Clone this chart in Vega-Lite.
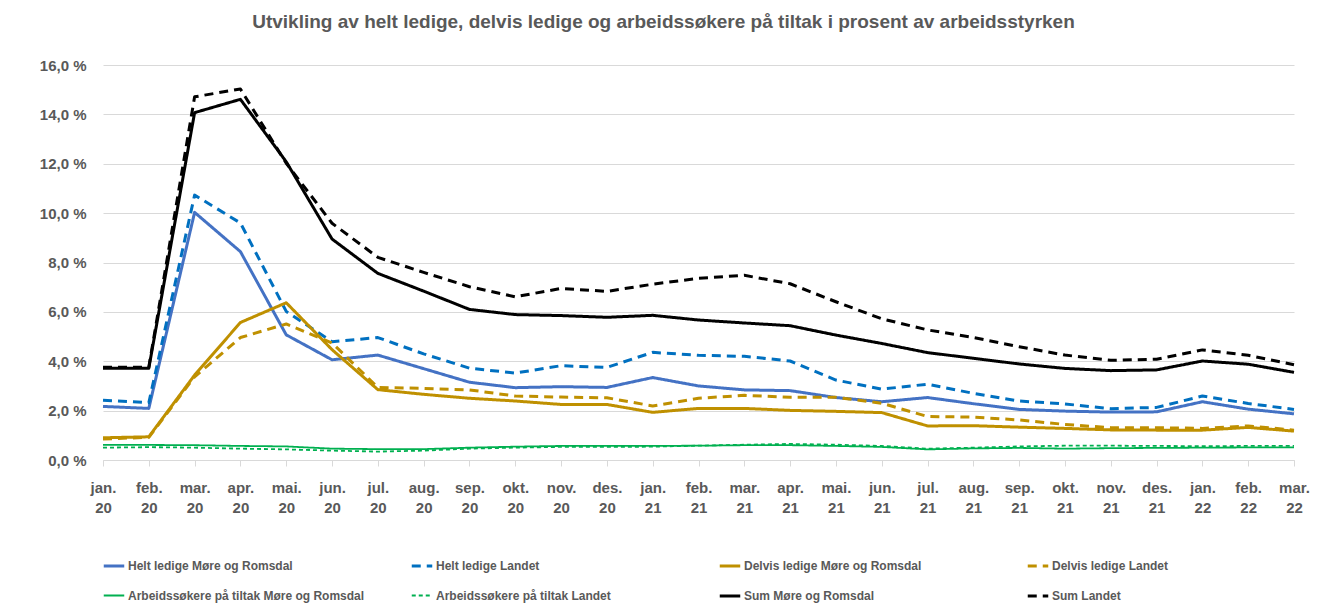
{
  "$schema": "https://vega.github.io/schema/vega-lite/v6.json",
  "autosize": "none",
  "padding": {"left": 103, "top": 65, "right": 41, "bottom": 143},
  "width": 1191,
  "height": 395,
  "background": "white",
  "title": {
    "text": "Utvikling av helt ledige, delvis ledige og arbeidssøkere på tiltak i prosent av arbeidsstyrken",
    "font": "Liberation Sans",
    "fontSize": 19,
    "fontWeight": "bold",
    "color": "#595959",
    "anchor": "middle",
    "dx": -35,
    "offset": 26
  },
  "config": {
    "view": {"stroke": null},
    "legend": {
      "orient": "none",
      "legendX": -1,
      "legendY": 489,
      "direction": "horizontal",
      "columns": 4,
      "gridAlign": "all",
      "columnPadding": 40,
      "rowPadding": 12,
      "symbolType": "stroke",
      "symbolSize": 420,
      "labelFont": "Liberation Sans",
      "labelFontSize": 12,
      "labelFontWeight": "bold",
      "labelColor": "#595959",
      "labelOffset": 2,
      "labelLimit": 0
    }
  },
  "datasets": {
    "d": [
      {"maaned":"jan. 20","serie":"Helt ledige Møre og Romsdal","verdi":2.17},
      {"maaned":"feb. 20","serie":"Helt ledige Møre og Romsdal","verdi":2.09},
      {"maaned":"mar. 20","serie":"Helt ledige Møre og Romsdal","verdi":10.03},
      {"maaned":"apr. 20","serie":"Helt ledige Møre og Romsdal","verdi":8.44},
      {"maaned":"mai. 20","serie":"Helt ledige Møre og Romsdal","verdi":5.07},
      {"maaned":"jun. 20","serie":"Helt ledige Møre og Romsdal","verdi":4.06},
      {"maaned":"jul. 20","serie":"Helt ledige Møre og Romsdal","verdi":4.25},
      {"maaned":"aug. 20","serie":"Helt ledige Møre og Romsdal","verdi":3.7},
      {"maaned":"sep. 20","serie":"Helt ledige Møre og Romsdal","verdi":3.15},
      {"maaned":"okt. 20","serie":"Helt ledige Møre og Romsdal","verdi":2.93},
      {"maaned":"nov. 20","serie":"Helt ledige Møre og Romsdal","verdi":2.97},
      {"maaned":"des. 20","serie":"Helt ledige Møre og Romsdal","verdi":2.94},
      {"maaned":"jan. 21","serie":"Helt ledige Møre og Romsdal","verdi":3.34},
      {"maaned":"feb. 21","serie":"Helt ledige Møre og Romsdal","verdi":3.0},
      {"maaned":"mar. 21","serie":"Helt ledige Møre og Romsdal","verdi":2.84},
      {"maaned":"apr. 21","serie":"Helt ledige Møre og Romsdal","verdi":2.81},
      {"maaned":"mai. 21","serie":"Helt ledige Møre og Romsdal","verdi":2.53},
      {"maaned":"jun. 21","serie":"Helt ledige Møre og Romsdal","verdi":2.36},
      {"maaned":"jul. 21","serie":"Helt ledige Møre og Romsdal","verdi":2.53},
      {"maaned":"aug. 21","serie":"Helt ledige Møre og Romsdal","verdi":2.28},
      {"maaned":"sep. 21","serie":"Helt ledige Møre og Romsdal","verdi":2.05},
      {"maaned":"okt. 21","serie":"Helt ledige Møre og Romsdal","verdi":1.98},
      {"maaned":"nov. 21","serie":"Helt ledige Møre og Romsdal","verdi":1.94},
      {"maaned":"des. 21","serie":"Helt ledige Møre og Romsdal","verdi":1.95},
      {"maaned":"jan. 22","serie":"Helt ledige Møre og Romsdal","verdi":2.36},
      {"maaned":"feb. 22","serie":"Helt ledige Møre og Romsdal","verdi":2.06},
      {"maaned":"mar. 22","serie":"Helt ledige Møre og Romsdal","verdi":1.87},

      {"maaned":"jan. 20","serie":"Helt ledige Landet","verdi":2.42},
      {"maaned":"feb. 20","serie":"Helt ledige Landet","verdi":2.32},
      {"maaned":"mar. 20","serie":"Helt ledige Landet","verdi":10.73},
      {"maaned":"apr. 20","serie":"Helt ledige Landet","verdi":9.6},
      {"maaned":"mai. 20","serie":"Helt ledige Landet","verdi":6.02},
      {"maaned":"jun. 20","serie":"Helt ledige Landet","verdi":4.79},
      {"maaned":"jul. 20","serie":"Helt ledige Landet","verdi":4.96},
      {"maaned":"aug. 20","serie":"Helt ledige Landet","verdi":4.3},
      {"maaned":"sep. 20","serie":"Helt ledige Landet","verdi":3.72},
      {"maaned":"okt. 20","serie":"Helt ledige Landet","verdi":3.52},
      {"maaned":"nov. 20","serie":"Helt ledige Landet","verdi":3.82},
      {"maaned":"des. 20","serie":"Helt ledige Landet","verdi":3.75},
      {"maaned":"jan. 21","serie":"Helt ledige Landet","verdi":4.36},
      {"maaned":"feb. 21","serie":"Helt ledige Landet","verdi":4.24},
      {"maaned":"mar. 21","serie":"Helt ledige Landet","verdi":4.2},
      {"maaned":"apr. 21","serie":"Helt ledige Landet","verdi":4.01},
      {"maaned":"mai. 21","serie":"Helt ledige Landet","verdi":3.24},
      {"maaned":"jun. 21","serie":"Helt ledige Landet","verdi":2.87},
      {"maaned":"jul. 21","serie":"Helt ledige Landet","verdi":3.07},
      {"maaned":"aug. 21","serie":"Helt ledige Landet","verdi":2.7},
      {"maaned":"sep. 21","serie":"Helt ledige Landet","verdi":2.39},
      {"maaned":"okt. 21","serie":"Helt ledige Landet","verdi":2.27},
      {"maaned":"nov. 21","serie":"Helt ledige Landet","verdi":2.08},
      {"maaned":"des. 21","serie":"Helt ledige Landet","verdi":2.13},
      {"maaned":"jan. 22","serie":"Helt ledige Landet","verdi":2.59},
      {"maaned":"feb. 22","serie":"Helt ledige Landet","verdi":2.29},
      {"maaned":"mar. 22","serie":"Helt ledige Landet","verdi":2.05},

      {"maaned":"jan. 20","serie":"Delvis ledige Møre og Romsdal","verdi":0.9},
      {"maaned":"feb. 20","serie":"Delvis ledige Møre og Romsdal","verdi":0.94},
      {"maaned":"mar. 20","serie":"Delvis ledige Møre og Romsdal","verdi":3.44},
      {"maaned":"apr. 20","serie":"Delvis ledige Møre og Romsdal","verdi":5.57},
      {"maaned":"mai. 20","serie":"Delvis ledige Møre og Romsdal","verdi":6.37},
      {"maaned":"jun. 20","serie":"Delvis ledige Møre og Romsdal","verdi":4.47},
      {"maaned":"jul. 20","serie":"Delvis ledige Møre og Romsdal","verdi":2.85},
      {"maaned":"aug. 20","serie":"Delvis ledige Møre og Romsdal","verdi":2.66},
      {"maaned":"sep. 20","serie":"Delvis ledige Møre og Romsdal","verdi":2.5},
      {"maaned":"okt. 20","serie":"Delvis ledige Møre og Romsdal","verdi":2.39},
      {"maaned":"nov. 20","serie":"Delvis ledige Møre og Romsdal","verdi":2.25},
      {"maaned":"des. 20","serie":"Delvis ledige Møre og Romsdal","verdi":2.25},
      {"maaned":"jan. 21","serie":"Delvis ledige Møre og Romsdal","verdi":1.93},
      {"maaned":"feb. 21","serie":"Delvis ledige Møre og Romsdal","verdi":2.09},
      {"maaned":"mar. 21","serie":"Delvis ledige Møre og Romsdal","verdi":2.09},
      {"maaned":"apr. 21","serie":"Delvis ledige Møre og Romsdal","verdi":2.01},
      {"maaned":"mai. 21","serie":"Delvis ledige Møre og Romsdal","verdi":1.97},
      {"maaned":"jun. 21","serie":"Delvis ledige Møre og Romsdal","verdi":1.92},
      {"maaned":"jul. 21","serie":"Delvis ledige Møre og Romsdal","verdi":1.38},
      {"maaned":"aug. 21","serie":"Delvis ledige Møre og Romsdal","verdi":1.39},
      {"maaned":"sep. 21","serie":"Delvis ledige Møre og Romsdal","verdi":1.33},
      {"maaned":"okt. 21","serie":"Delvis ledige Møre og Romsdal","verdi":1.28},
      {"maaned":"nov. 21","serie":"Delvis ledige Møre og Romsdal","verdi":1.22},
      {"maaned":"des. 21","serie":"Delvis ledige Møre og Romsdal","verdi":1.21},
      {"maaned":"jan. 22","serie":"Delvis ledige Møre og Romsdal","verdi":1.21},
      {"maaned":"feb. 22","serie":"Delvis ledige Møre og Romsdal","verdi":1.32},
      {"maaned":"mar. 22","serie":"Delvis ledige Møre og Romsdal","verdi":1.17},

      {"maaned":"jan. 20","serie":"Delvis ledige Landet","verdi":0.85},
      {"maaned":"feb. 20","serie":"Delvis ledige Landet","verdi":0.92},
      {"maaned":"mar. 20","serie":"Delvis ledige Landet","verdi":3.37},
      {"maaned":"apr. 20","serie":"Delvis ledige Landet","verdi":4.96},
      {"maaned":"mai. 20","serie":"Delvis ledige Landet","verdi":5.51},
      {"maaned":"jun. 20","serie":"Delvis ledige Landet","verdi":4.74},
      {"maaned":"jul. 20","serie":"Delvis ledige Landet","verdi":2.94},
      {"maaned":"aug. 20","serie":"Delvis ledige Landet","verdi":2.9},
      {"maaned":"sep. 20","serie":"Delvis ledige Landet","verdi":2.84},
      {"maaned":"okt. 20","serie":"Delvis ledige Landet","verdi":2.59},
      {"maaned":"nov. 20","serie":"Delvis ledige Landet","verdi":2.55},
      {"maaned":"des. 20","serie":"Delvis ledige Landet","verdi":2.52},
      {"maaned":"jan. 21","serie":"Delvis ledige Landet","verdi":2.19},
      {"maaned":"feb. 21","serie":"Delvis ledige Landet","verdi":2.5},
      {"maaned":"mar. 21","serie":"Delvis ledige Landet","verdi":2.62},
      {"maaned":"apr. 21","serie":"Delvis ledige Landet","verdi":2.54},
      {"maaned":"mai. 21","serie":"Delvis ledige Landet","verdi":2.54},
      {"maaned":"jun. 21","serie":"Delvis ledige Landet","verdi":2.3},
      {"maaned":"jul. 21","serie":"Delvis ledige Landet","verdi":1.76},
      {"maaned":"aug. 21","serie":"Delvis ledige Landet","verdi":1.74},
      {"maaned":"sep. 21","serie":"Delvis ledige Landet","verdi":1.62},
      {"maaned":"okt. 21","serie":"Delvis ledige Landet","verdi":1.44},
      {"maaned":"nov. 21","serie":"Delvis ledige Landet","verdi":1.31},
      {"maaned":"des. 21","serie":"Delvis ledige Landet","verdi":1.31},
      {"maaned":"jan. 22","serie":"Delvis ledige Landet","verdi":1.28},
      {"maaned":"feb. 22","serie":"Delvis ledige Landet","verdi":1.38},
      {"maaned":"mar. 22","serie":"Delvis ledige Landet","verdi":1.21},

      {"maaned":"jan. 20","serie":"Arbeidssøkere på tiltak Møre og Romsdal","verdi":0.61},
      {"maaned":"feb. 20","serie":"Arbeidssøkere på tiltak Møre og Romsdal","verdi":0.61},
      {"maaned":"mar. 20","serie":"Arbeidssøkere på tiltak Møre og Romsdal","verdi":0.6},
      {"maaned":"apr. 20","serie":"Arbeidssøkere på tiltak Møre og Romsdal","verdi":0.57},
      {"maaned":"mai. 20","serie":"Arbeidssøkere på tiltak Møre og Romsdal","verdi":0.55},
      {"maaned":"jun. 20","serie":"Arbeidssøkere på tiltak Møre og Romsdal","verdi":0.46},
      {"maaned":"jul. 20","serie":"Arbeidssøkere på tiltak Møre og Romsdal","verdi":0.44},
      {"maaned":"aug. 20","serie":"Arbeidssøkere på tiltak Møre og Romsdal","verdi":0.44},
      {"maaned":"sep. 20","serie":"Arbeidssøkere på tiltak Møre og Romsdal","verdi":0.5},
      {"maaned":"okt. 20","serie":"Arbeidssøkere på tiltak Møre og Romsdal","verdi":0.54},
      {"maaned":"nov. 20","serie":"Arbeidssøkere på tiltak Møre og Romsdal","verdi":0.57},
      {"maaned":"des. 20","serie":"Arbeidssøkere på tiltak Møre og Romsdal","verdi":0.57},
      {"maaned":"jan. 21","serie":"Arbeidssøkere på tiltak Møre og Romsdal","verdi":0.57},
      {"maaned":"feb. 21","serie":"Arbeidssøkere på tiltak Møre og Romsdal","verdi":0.58},
      {"maaned":"mar. 21","serie":"Arbeidssøkere på tiltak Møre og Romsdal","verdi":0.6},
      {"maaned":"apr. 21","serie":"Arbeidssøkere på tiltak Møre og Romsdal","verdi":0.6},
      {"maaned":"mai. 21","serie":"Arbeidssøkere på tiltak Møre og Romsdal","verdi":0.57},
      {"maaned":"jun. 21","serie":"Arbeidssøkere på tiltak Møre og Romsdal","verdi":0.53},
      {"maaned":"jul. 21","serie":"Arbeidssøkere på tiltak Møre og Romsdal","verdi":0.43},
      {"maaned":"aug. 21","serie":"Arbeidssøkere på tiltak Møre og Romsdal","verdi":0.47},
      {"maaned":"sep. 21","serie":"Arbeidssøkere på tiltak Møre og Romsdal","verdi":0.49},
      {"maaned":"okt. 21","serie":"Arbeidssøkere på tiltak Møre og Romsdal","verdi":0.46},
      {"maaned":"nov. 21","serie":"Arbeidssøkere på tiltak Møre og Romsdal","verdi":0.48},
      {"maaned":"des. 21","serie":"Arbeidssøkere på tiltak Møre og Romsdal","verdi":0.49},
      {"maaned":"jan. 22","serie":"Arbeidssøkere på tiltak Møre og Romsdal","verdi":0.5},
      {"maaned":"feb. 22","serie":"Arbeidssøkere på tiltak Møre og Romsdal","verdi":0.51},
      {"maaned":"mar. 22","serie":"Arbeidssøkere på tiltak Møre og Romsdal","verdi":0.51},

      {"maaned":"jan. 20","serie":"Arbeidssøkere på tiltak Landet","verdi":0.5},
      {"maaned":"feb. 20","serie":"Arbeidssøkere på tiltak Landet","verdi":0.52},
      {"maaned":"mar. 20","serie":"Arbeidssøkere på tiltak Landet","verdi":0.5},
      {"maaned":"apr. 20","serie":"Arbeidssøkere på tiltak Landet","verdi":0.46},
      {"maaned":"mai. 20","serie":"Arbeidssøkere på tiltak Landet","verdi":0.43},
      {"maaned":"jun. 20","serie":"Arbeidssøkere på tiltak Landet","verdi":0.38},
      {"maaned":"jul. 20","serie":"Arbeidssøkere på tiltak Landet","verdi":0.34},
      {"maaned":"aug. 20","serie":"Arbeidssøkere på tiltak Landet","verdi":0.38},
      {"maaned":"sep. 20","serie":"Arbeidssøkere på tiltak Landet","verdi":0.46},
      {"maaned":"okt. 20","serie":"Arbeidssøkere på tiltak Landet","verdi":0.5},
      {"maaned":"nov. 20","serie":"Arbeidssøkere på tiltak Landet","verdi":0.53},
      {"maaned":"des. 20","serie":"Arbeidssøkere på tiltak Landet","verdi":0.53},
      {"maaned":"jan. 21","serie":"Arbeidssøkere på tiltak Landet","verdi":0.54},
      {"maaned":"feb. 21","serie":"Arbeidssøkere på tiltak Landet","verdi":0.58},
      {"maaned":"mar. 21","serie":"Arbeidssøkere på tiltak Landet","verdi":0.62},
      {"maaned":"apr. 21","serie":"Arbeidssøkere på tiltak Landet","verdi":0.65},
      {"maaned":"mai. 21","serie":"Arbeidssøkere på tiltak Landet","verdi":0.62},
      {"maaned":"jun. 21","serie":"Arbeidssøkere på tiltak Landet","verdi":0.57},
      {"maaned":"jul. 21","serie":"Arbeidssøkere på tiltak Landet","verdi":0.46},
      {"maaned":"aug. 21","serie":"Arbeidssøkere på tiltak Landet","verdi":0.5},
      {"maaned":"sep. 21","serie":"Arbeidssøkere på tiltak Landet","verdi":0.55},
      {"maaned":"okt. 21","serie":"Arbeidssøkere på tiltak Landet","verdi":0.58},
      {"maaned":"nov. 21","serie":"Arbeidssøkere på tiltak Landet","verdi":0.58},
      {"maaned":"des. 21","serie":"Arbeidssøkere på tiltak Landet","verdi":0.57},
      {"maaned":"jan. 22","serie":"Arbeidssøkere på tiltak Landet","verdi":0.56},
      {"maaned":"feb. 22","serie":"Arbeidssøkere på tiltak Landet","verdi":0.57},
      {"maaned":"mar. 22","serie":"Arbeidssøkere på tiltak Landet","verdi":0.57},

      {"maaned":"jan. 20","serie":"Sum Møre og Romsdal","verdi":3.72},
      {"maaned":"feb. 20","serie":"Sum Møre og Romsdal","verdi":3.72},
      {"maaned":"mar. 20","serie":"Sum Møre og Romsdal","verdi":14.07},
      {"maaned":"apr. 20","serie":"Sum Møre og Romsdal","verdi":14.61},
      {"maaned":"mai. 20","serie":"Sum Møre og Romsdal","verdi":12.08},
      {"maaned":"jun. 20","serie":"Sum Møre og Romsdal","verdi":8.95},
      {"maaned":"jul. 20","serie":"Sum Møre og Romsdal","verdi":7.56},
      {"maaned":"aug. 20","serie":"Sum Møre og Romsdal","verdi":6.84},
      {"maaned":"sep. 20","serie":"Sum Møre og Romsdal","verdi":6.1},
      {"maaned":"okt. 20","serie":"Sum Møre og Romsdal","verdi":5.89},
      {"maaned":"nov. 20","serie":"Sum Møre og Romsdal","verdi":5.85},
      {"maaned":"des. 20","serie":"Sum Møre og Romsdal","verdi":5.78},
      {"maaned":"jan. 21","serie":"Sum Møre og Romsdal","verdi":5.86},
      {"maaned":"feb. 21","serie":"Sum Møre og Romsdal","verdi":5.67},
      {"maaned":"mar. 21","serie":"Sum Møre og Romsdal","verdi":5.55},
      {"maaned":"apr. 21","serie":"Sum Møre og Romsdal","verdi":5.44},
      {"maaned":"mai. 21","serie":"Sum Møre og Romsdal","verdi":5.06},
      {"maaned":"jun. 21","serie":"Sum Møre og Romsdal","verdi":4.72},
      {"maaned":"jul. 21","serie":"Sum Møre og Romsdal","verdi":4.35},
      {"maaned":"aug. 21","serie":"Sum Møre og Romsdal","verdi":4.12},
      {"maaned":"sep. 21","serie":"Sum Møre og Romsdal","verdi":3.89},
      {"maaned":"okt. 21","serie":"Sum Møre og Romsdal","verdi":3.71},
      {"maaned":"nov. 21","serie":"Sum Møre og Romsdal","verdi":3.62},
      {"maaned":"des. 21","serie":"Sum Møre og Romsdal","verdi":3.65},
      {"maaned":"jan. 22","serie":"Sum Møre og Romsdal","verdi":4.01},
      {"maaned":"feb. 22","serie":"Sum Møre og Romsdal","verdi":3.88},
      {"maaned":"mar. 22","serie":"Sum Møre og Romsdal","verdi":3.55},

      {"maaned":"jan. 20","serie":"Sum Landet","verdi":3.76},
      {"maaned":"feb. 20","serie":"Sum Landet","verdi":3.76},
      {"maaned":"mar. 20","serie":"Sum Landet","verdi":14.71},
      {"maaned":"apr. 20","serie":"Sum Landet","verdi":15.03},
      {"maaned":"mai. 20","serie":"Sum Landet","verdi":12.02},
      {"maaned":"jun. 20","serie":"Sum Landet","verdi":9.59},
      {"maaned":"jul. 20","serie":"Sum Landet","verdi":8.21},
      {"maaned":"aug. 20","serie":"Sum Landet","verdi":7.6},
      {"maaned":"sep. 20","serie":"Sum Landet","verdi":7.02},
      {"maaned":"okt. 20","serie":"Sum Landet","verdi":6.61},
      {"maaned":"nov. 20","serie":"Sum Landet","verdi":6.95},
      {"maaned":"des. 20","serie":"Sum Landet","verdi":6.83},
      {"maaned":"jan. 21","serie":"Sum Landet","verdi":7.12},
      {"maaned":"feb. 21","serie":"Sum Landet","verdi":7.36},
      {"maaned":"mar. 21","serie":"Sum Landet","verdi":7.48},
      {"maaned":"apr. 21","serie":"Sum Landet","verdi":7.14},
      {"maaned":"mai. 21","serie":"Sum Landet","verdi":6.41},
      {"maaned":"jun. 21","serie":"Sum Landet","verdi":5.72},
      {"maaned":"jul. 21","serie":"Sum Landet","verdi":5.27},
      {"maaned":"aug. 21","serie":"Sum Landet","verdi":4.96},
      {"maaned":"sep. 21","serie":"Sum Landet","verdi":4.59},
      {"maaned":"okt. 21","serie":"Sum Landet","verdi":4.25},
      {"maaned":"nov. 21","serie":"Sum Landet","verdi":4.04},
      {"maaned":"des. 21","serie":"Sum Landet","verdi":4.08},
      {"maaned":"jan. 22","serie":"Sum Landet","verdi":4.46},
      {"maaned":"feb. 22","serie":"Sum Landet","verdi":4.24},
      {"maaned":"mar. 22","serie":"Sum Landet","verdi":3.86}
    ]
  },
  "data": {"name": "d"},
  "mark": {"type": "line", "strokeCap": "butt", "strokeJoin": "round"},
  "encoding": {
    "x": {
      "field": "maaned",
      "type": "ordinal",
      "sort": null,
      "title": null,
      "scale": {"type": "point", "padding": 0},
      "axis": {
        "labelAngle": 0,
        "labelExpr": "split(datum.label, ' ')",
        "labelLineHeight": 20,
        "labelBaseline": "top",
        "labelPadding": 14,
        "labelFont": "Liberation Sans",
        "labelFontSize": 15,
        "labelFontWeight": "bold",
        "labelColor": "#595959",
        "domainColor": "#d9d9d9",
        "tickColor": "#d9d9d9",
        "tickSize": 6,
        "grid": false
      }
    },
    "y": {
      "field": "verdi",
      "type": "quantitative",
      "title": null,
      "scale": {"domain": [0, 16], "nice": false, "zero": true},
      "axis": {
        "values": [0, 2, 4, 6, 8, 10, 12, 14, 16],
        "labelExpr": "replace(format(datum.value, '.1f'), '.', ',') + ' %'",
        "labelFont": "Liberation Sans",
        "labelFontSize": 15,
        "labelFontWeight": "bold",
        "labelColor": "#595959",
        "labelPadding": 17,
        "domain": false,
        "ticks": false,
        "gridColor": "#d9d9d9",
        "gridWidth": 1
      }
    },
    "color": {
      "field": "serie",
      "type": "nominal",
      "title": null,
      "scale": {
        "domain": ["Helt ledige Møre og Romsdal", "Helt ledige Landet", "Delvis ledige Møre og Romsdal", "Delvis ledige Landet", "Arbeidssøkere på tiltak Møre og Romsdal", "Arbeidssøkere på tiltak Landet", "Sum Møre og Romsdal", "Sum Landet"],
        "range": ["#4472C4", "#0070C0", "#BF9000", "#BF9000", "#00B050", "#00B050", "#000000", "#000000"]
      }
    },
    "strokeDash": {
      "field": "serie",
      "type": "nominal",
      "title": null,
      "scale": {
        "domain": ["Helt ledige Møre og Romsdal", "Helt ledige Landet", "Delvis ledige Møre og Romsdal", "Delvis ledige Landet", "Arbeidssøkere på tiltak Møre og Romsdal", "Arbeidssøkere på tiltak Landet", "Sum Møre og Romsdal", "Sum Landet"],
        "range": [[1, 0], [9, 6], [1, 0], [9, 6], [1, 0], [4, 3], [1, 0], [9, 6]]
      }
    },
    "strokeWidth": {
      "field": "serie",
      "type": "nominal",
      "title": null,
      "scale": {
        "type": "ordinal",
        "domain": ["Helt ledige Møre og Romsdal", "Helt ledige Landet", "Delvis ledige Møre og Romsdal", "Delvis ledige Landet", "Arbeidssøkere på tiltak Møre og Romsdal", "Arbeidssøkere på tiltak Landet", "Sum Møre og Romsdal", "Sum Landet"],
        "range": [3, 3, 3, 3, 1.8, 1.8, 3, 3]
      }
    }
  }
}
